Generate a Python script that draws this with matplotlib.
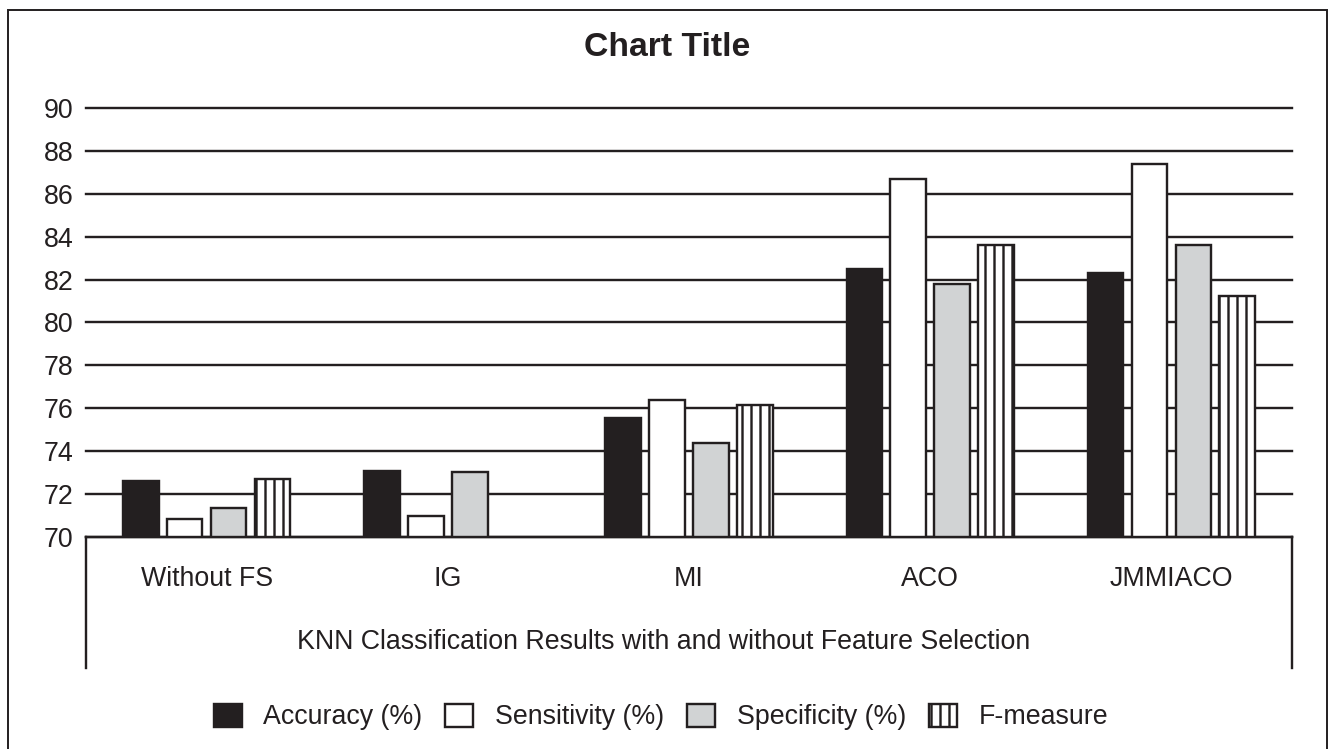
import numpy as np
import matplotlib
matplotlib.use("Agg")
import matplotlib.pyplot as plt
from matplotlib.patches import Patch, Rectangle
from matplotlib.lines import Line2D

categories = ["Without FS", "IG", "MI", "ACO", "JMMIACO"]
series_names = ["Accuracy (%)", "Sensitivity (%)", "Specificity (%)", "F-measure"]
accuracy = [72.6, 73.1, 75.55, 82.5, 82.3]
sensitivity = [70.85, 71.0, 76.4, 86.7, 87.4]
specificity = [71.35, 73.05, 74.4, 81.8, 83.6]
f_measure = [72.7, np.nan, 76.15, 83.6, 81.25]
yticks = [70, 72, 74, 76, 78, 80, 82, 84, 86, 88, 90]
title = "Chart Title"
xlabel = "KNN Classification Results with and without Feature Selection"

DPI = 108
W, H = 1328, 749
INK = "#231f20"
GREY = "#d1d3d4"
FS = 17.8

plt.rcParams["font.family"] = ["Liberation Sans", "DejaVu Sans"]
plt.rcParams["hatch.linewidth"] = 1.6
plt.rcParams["hatch.color"] = INK

fig = plt.figure(figsize=(W / DPI, H / DPI), dpi=DPI)
fig.patch.set_facecolor("white")

def fx(px):
    return px / W

def fy(py):
    return 1 - py / H

left, right, top, bottom = 86, 1292, 108, 537
ax = fig.add_axes([fx(left), fy(bottom), fx(right) - fx(left), fy(top) - fy(bottom)])

styles = [
    dict(facecolor=INK, hatch=None),
    dict(facecolor="white", hatch=None),
    dict(facecolor=GREY, hatch=None),
    dict(facecolor="white", hatch="||"),
]
data = [accuracy, sensitivity, specificity, f_measure]
x = np.arange(len(categories))
step = 0.182
width = 0.148
for i, (vals, st) in enumerate(zip(data, styles)):
    ax.bar(x + (i - 1.5) * step, vals, width, color=st["facecolor"], edgecolor=INK,
           linewidth=1.6, hatch=st["hatch"], zorder=3, label=series_names[i])

ax.set_xlim(-0.5, len(categories) - 0.5)
ax.set_ylim(70, 90)
ax.set_yticks(yticks)
ax.yaxis.grid(True, color=INK, linewidth=1.6)
for gl in ax.get_ygridlines():
    gl.set_clip_on(False)
ax.set_axisbelow(True)
for s in ["top", "left", "right"]:
    ax.spines[s].set_visible(False)
ax.spines["bottom"].set_color(INK)
ax.spines["bottom"].set_linewidth(1.6)
ax.spines["bottom"].set_zorder(4)
ax.set_xticks(x)
ax.set_xticklabels(categories)
ax.tick_params(axis="x", length=0, pad=19, labelsize=FS, labelcolor=INK)
ax.tick_params(axis="y", length=0, pad=8.5, labelsize=FS, labelcolor=INK)

# vertical end lines of category axis box
drop = (668 - bottom) / (bottom - top)
for xa in (0, 1):
    ax.add_line(Line2D([xa, xa], [0, -drop], transform=ax.transAxes, color=INK,
                       linewidth=1.6, clip_on=False))

fig.text(0.5, fy(642), xlabel, ha="center", va="center", fontsize=FS, color=INK)
fig.text(fx(667), fy(48), title, ha="center", va="center", fontsize=22.5,
         fontweight="bold", color=INK)

handles = [Patch(facecolor=st["facecolor"], edgecolor=INK, linewidth=1.6, hatch=st["hatch"])
           for st in styles]
fig.legend(handles, series_names, loc="center", bbox_to_anchor=(fx(661), fy(717)),
           ncol=4, frameon=False, fontsize=FS, handlelength=1.05, handleheight=0.94,
           handletextpad=0.82, columnspacing=0.85, labelcolor=INK)

# outer border
fig.add_artist(Rectangle((fx(8), fy(760)), fx(1327) - fx(8), fy(10) - fy(760),
                         transform=fig.transFigure, fill=False, edgecolor=INK,
                         linewidth=1.3, clip_on=False))

fig.savefig("out.png", dpi=DPI)
